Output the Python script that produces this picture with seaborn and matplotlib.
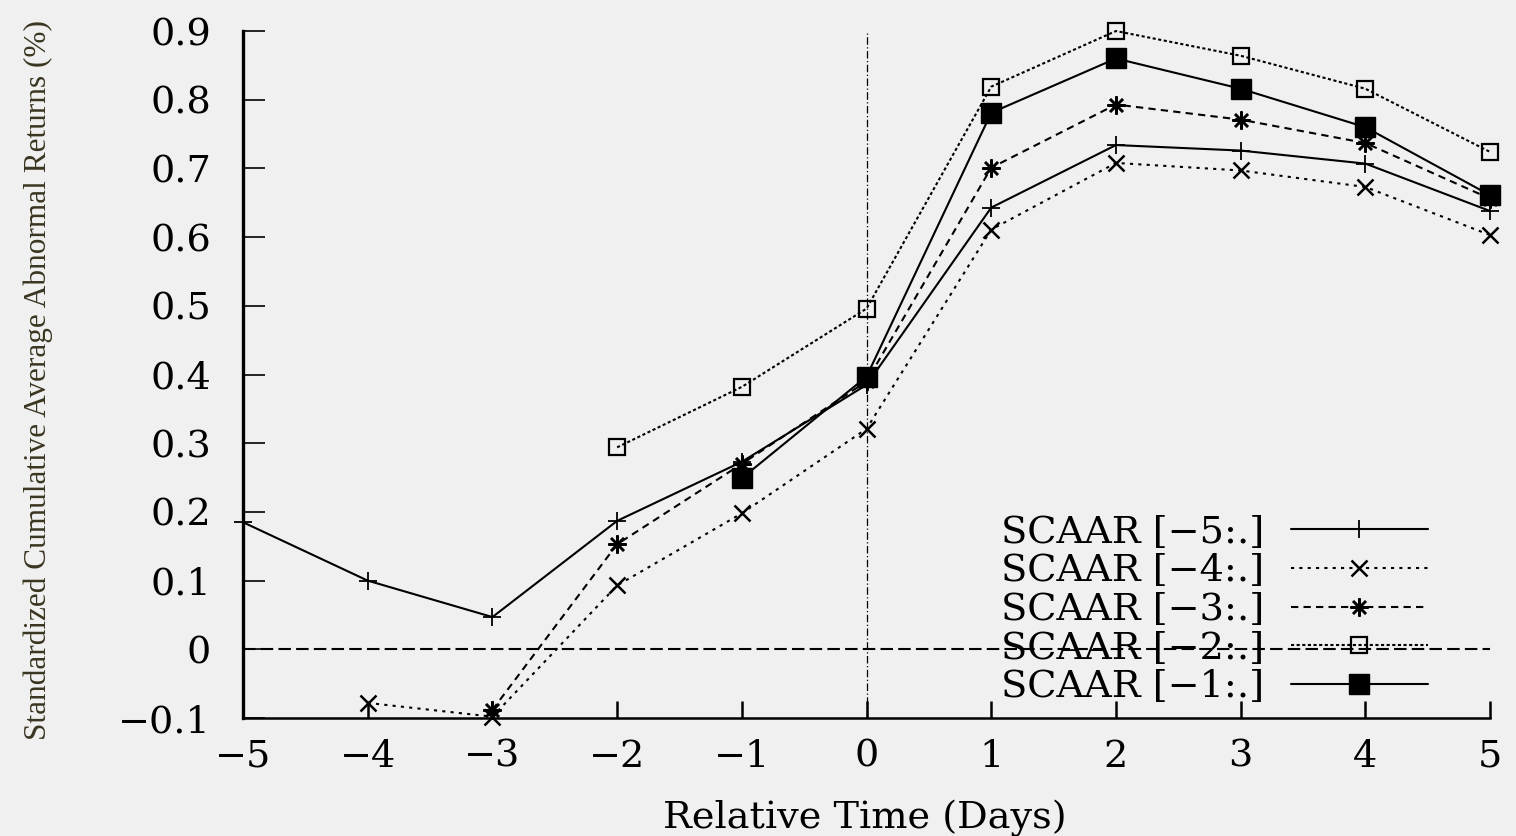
import numpy as np
import pandas as pd
import seaborn as sns
import matplotlib.pyplot as plt

# values
days_m5 = [-5, -4, -3, -2, -1, 0, 1, 2, 3, 4, 5]
scaar_m5 = [0.185, 0.100, 0.047, 0.187, 0.273, 0.385, 0.643, 0.734, 0.726, 0.707, 0.638]
days_m4 = [-4, -3, -2, -1, 0, 1, 2, 3, 4, 5]
scaar_m4 = [-0.078, -0.098, 0.093, 0.198, 0.321, 0.611, 0.708, 0.697, 0.673, 0.603]
days_m3 = [-3, -2, -1, 0, 1, 2, 3, 4, 5]
scaar_m3 = [-0.088, 0.153, 0.270, 0.390, 0.701, 0.793, 0.771, 0.737, 0.656]
days_m2 = [-2, -1, 0, 1, 2, 3, 4, 5]
scaar_m2 = [0.294, 0.382, 0.496, 0.819, 0.900, 0.864, 0.816, 0.724]
days_m1 = [-1, 0, 1, 2, 3, 4, 5]
scaar_m1 = [0.249, 0.397, 0.781, 0.860, 0.816, 0.760, 0.661]

labels = ["SCAAR [\u22125:.]", "SCAAR [\u22124:.]", "SCAAR [\u22123:.]",
          "SCAAR [\u22122:.]", "SCAAR [\u22121:.]"]
x_ticks = [-5, -4, -3, -2, -1, 0, 1, 2, 3, 4, 5]
y_ticks = [-0.1, 0, 0.1, 0.2, 0.3, 0.4, 0.5, 0.6, 0.7, 0.8, 0.9]
y_ticklabels = ["\u22120.1", "0", "0.1", "0.2", "0.3", "0.4", "0.5", "0.6", "0.7", "0.8", "0.9"]

bg = "#f0f0f0"
sns.set_style("ticks", {"axes.edgecolor": "black", "text.color": "black",
                        "axes.labelcolor": "black", "xtick.color": "black",
                        "ytick.color": "black"})
plt.rcParams["font.family"] = ["DejaVu Serif", "Liberation Serif"]

dpi = 100
fig = plt.figure(figsize=(1516 / dpi, 836 / dpi), dpi=dpi, facecolor=bg)
ax = fig.add_axes([0.1603, 0.1411, 0.8226, 0.8218], facecolor=bg)

# reference lines at y=0 and x=0
ax.axhline(0, color="black", lw=1.5, ls=(0, (6, 2.5)), zorder=1)
ax.axvline(0, color="black", lw=0.9, ls=(0, (6, 2, 1, 2)), zorder=1)

series = [
    (days_m5, scaar_m5, dict(marker="+", ms=13, mew=1.3, ls="-")),
    (days_m4, scaar_m4, dict(marker="x", ms=11, mew=1.8, ls=(0, (1.5, 2.5)))),
    (days_m3, scaar_m3, dict(marker=(8, 2, 0), ms=13, mew=1.8, ls=(0, (3.5, 2.5)))),
    (days_m2, scaar_m2, dict(marker="s", ms=12, mew=1.6, mfc="none", ls=(0, (1.5, 1.2)))),
    (days_m1, scaar_m1, dict(marker="s", ms=14, mew=1.0, ls="-")),
]

for (d, v, style), lab in zip(series, labels):
    df = pd.DataFrame({"day": d, "scaar": v})
    sns.lineplot(data=df, x="day", y="scaar", ax=ax, color="black", lw=1.5,
                 mec="black", label=lab, estimator=None, clip_on=False,
                 zorder=3, **style)

ax.set_xlim(-5, 5)
ax.set_ylim(-0.1, 0.9)
ax.set_xticks(x_ticks)
ax.set_xticklabels([str(t).replace("-", "\u2212") for t in x_ticks])
ax.set_yticks(y_ticks)
ax.set_yticklabels(y_ticklabels)
ax.tick_params(axis="y", direction="in", length=16, width=1.2, pad=23, labelsize=27.5)
ax.tick_params(axis="x", direction="in", length=12, width=1.8, pad=15, labelsize=27.5)

sns.despine(ax=ax)
ax.spines["left"].set_linewidth(2.4)
ax.spines["bottom"].set_linewidth(1.8)

ax.set_xlabel("Relative Time (Days)", fontsize=27.5, va="center")
ax.xaxis.set_label_coords(0.4988, -0.1456)
ax.set_ylabel("Standardized Cumulative Average Abnormal Returns (%)",
              fontsize=22.5, color="#3a3520", va="center",
              family=["Liberation Serif", "DejaVu Serif"])
ax.yaxis.set_label_coords(-0.1644, 0.492)

ax.legend(loc="lower right", bbox_to_anchor=(0.9503, 0.0185), frameon=False,
          markerfirst=False, fontsize=27.5, handlelength=3.6, handletextpad=0.7,
          labelspacing=0.07, borderpad=0, borderaxespad=0, numpoints=1)

fig.savefig("out.png", dpi=dpi, facecolor=bg)
